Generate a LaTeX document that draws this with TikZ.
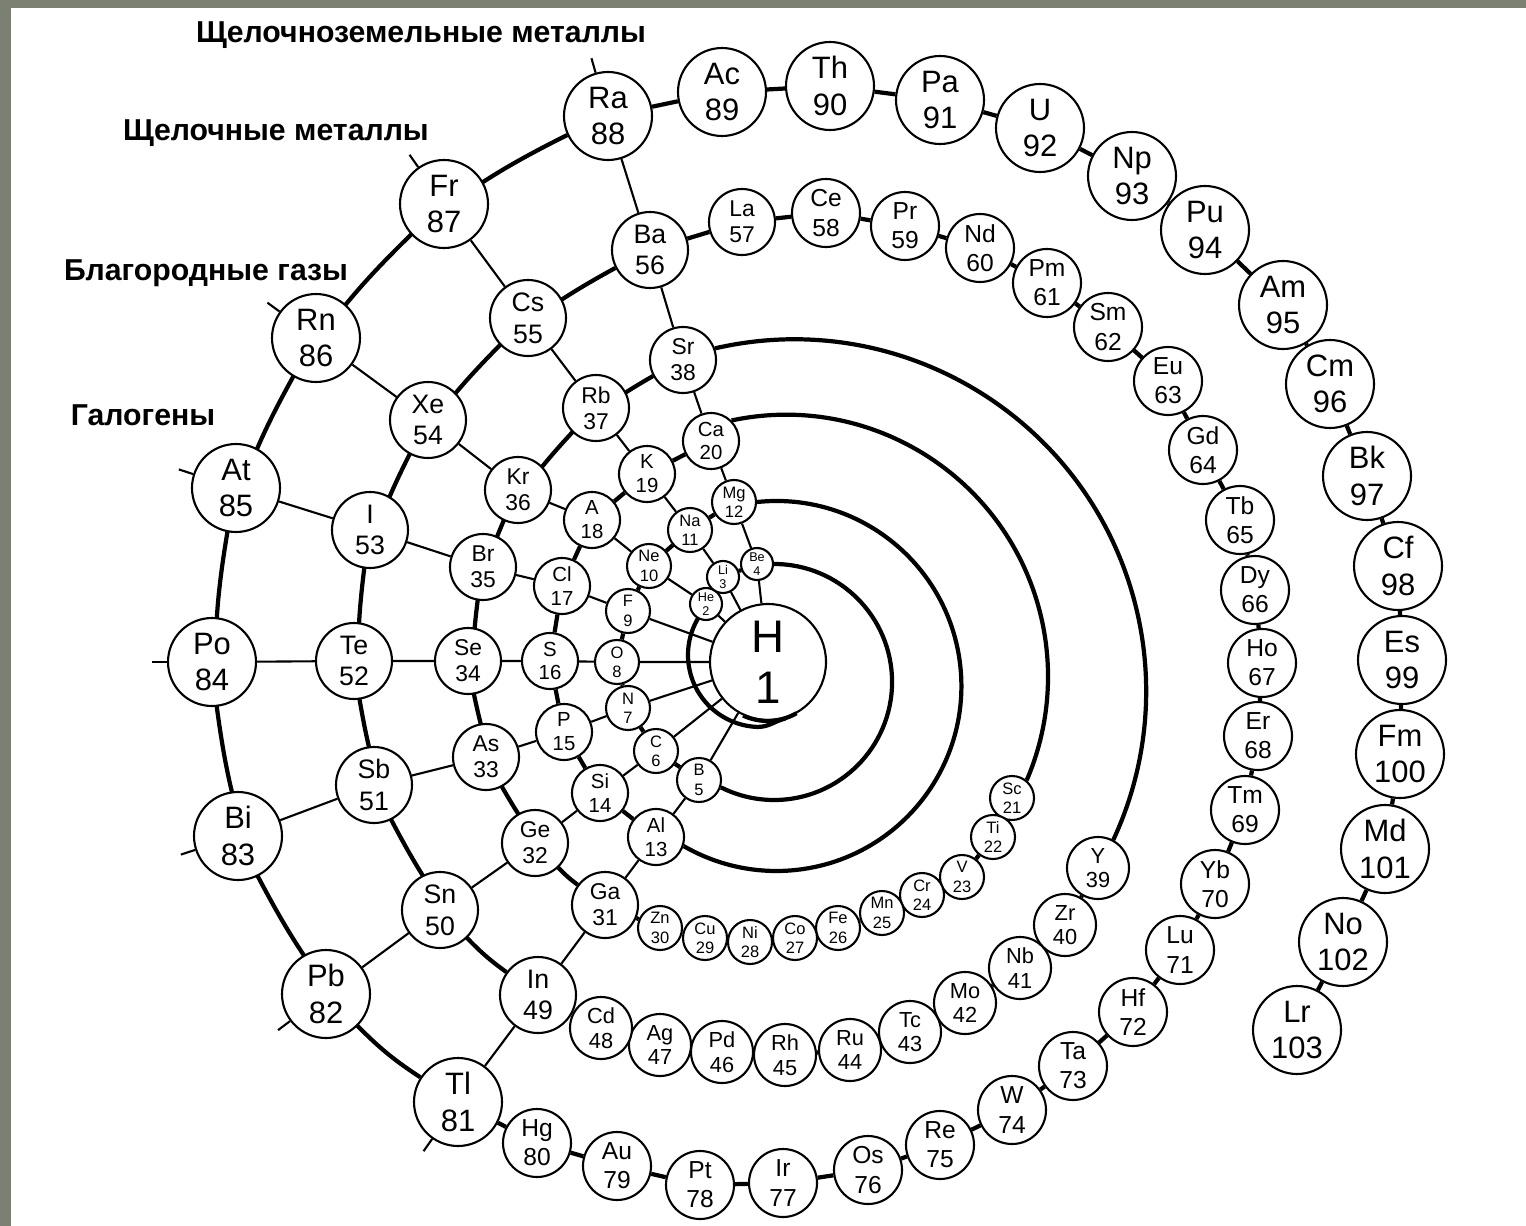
\documentclass[tikz,border=0pt]{standalone}
\usepackage{fontspec}
\setmainfont{Liberation Sans}
\usetikzlibrary{backgrounds}
\definecolor{framegray}{RGB}{124,128,114}

\begin{document}
\begin{tikzpicture}[
    x=0.1mm, y=0.1mm,
    el/.style={circle, draw, fill=white, line width=0.6pt, inner sep=0pt, align=center},
    hyd/.style={el, minimum size=11.6mm, font=\fontsize{13}{14.5}\selectfont},
    sz16/.style={el, minimum size=3.2mm, font=\fontsize{3.6}{4}\selectfont},
    sz22/.style={el, minimum size=4.4mm, font=\fontsize{4.7}{5.5}\selectfont},
    sz28/.style={el, minimum size=5.6mm, font=\fontsize{5.8}{6.8}\selectfont},
    sz31/.style={el, minimum size=6.2mm, font=\fontsize{6.2}{7}\selectfont},
    sz33/.style={el, minimum size=6.6mm, font=\fontsize{6.5}{7.4}\selectfont},
    sz34/.style={el, minimum size=6.8mm, font=\fontsize{7}{8.3}\selectfont},
    sz38/.style={el, minimum size=7.6mm, font=\fontsize{7.6}{9}\selectfont},
    sz44/.style={el, minimum size=8.8mm, font=\fontsize{8.8}{10.4}\selectfont},
    spl/.style={line width=1.2pt},
    grp/.style={line width=0.6pt},
    lbl/.style={font=\bfseries\fontsize{8.6}{10}\selectfont, inner sep=0pt}
]
\useasboundingbox (0,0) rectangle (1526,-1226);

% hydrogen and the first turns
\node[hyd] (H) at (768,-662) {H\\1};
\node[sz16] (He) at (706,-604) {He\\2};
\node[sz16] (Li) at (723,-577) {Li\\3};
\node[sz16] (Be) at (757,-564) {Be\\4};

\node[sz22] (B) at (699,-780) {B\\5};
\node[sz22] (C) at (656,-751) {C\\6};
\node[sz22] (N) at (628,-708) {N\\7};
\node[sz22] (O) at (617,-662) {O\\8};
\node[sz22] (F) at (628,-611) {F\\9};
\node[sz22] (Ne) at (649,-566) {Ne\\10};
\node[sz22] (Na) at (690,-530) {Na\\11};
\node[sz22] (Mg) at (734,-502) {Mg\\12};

\node[sz28] (Al) at (656,-837) {Al\\13};
\node[sz28] (Si) at (600,-793) {Si\\14};
\node[sz28] (P) at (564,-732) {P\\15};
\node[sz28] (S) at (550,-661) {S\\16};
\node[sz28] (Cl) at (562,-586) {Cl\\17};
\node[sz28] (Ar) at (592,-520) {A\\18};
\node[sz28] (K) at (647,-474) {K\\19};
\node[sz28] (Ca) at (711,-441) {Ca\\20};

% 3d
\node[sz22] (Sc) at (1012,-798) {Sc\\21};
\node[sz22] (Ti) at (993,-837) {Ti\\22};
\node[sz22] (V) at (962,-877) {V\\23};
\node[sz22] (Cr) at (922,-895) {Cr\\24};
\node[sz22] (Mn) at (882,-913) {Mn\\25};
\node[sz22] (Fe) at (838,-928) {Fe\\26};
\node[sz22] (Co) at (795,-938) {Co\\27};
\node[sz22] (Ni) at (750,-942) {Ni\\28};
\node[sz22] (Cu) at (705,-938) {Cu\\29};
\node[sz22] (Zn) at (660,-928) {Zn\\30};

\node[sz33] (Ga) at (605,-905) {Ga\\31};
\node[sz33] (Ge) at (535,-843) {Ge\\32};
\node[sz33] (As) at (486,-757) {As\\33};
\node[sz33] (Se) at (468,-661) {Se\\34};
\node[sz33] (Br) at (483,-567) {Br\\35};
\node[sz33] (Kr) at (518,-490) {Kr\\36};
\node[sz33] (Rb) at (596,-408) {Rb\\37};
\node[sz33] (Sr) at (683,-360) {Sr\\38};

% 4d
\node[sz31] (Y) at (1098,-868) {Y\\39};
\node[sz31] (Zr) at (1065,-925) {Zr\\40};
\node[sz31] (Nb) at (1020,-968) {Nb\\41};
\node[sz31] (Mo) at (965,-1003) {Mo\\42};
\node[sz31] (Tc) at (910,-1032) {Tc\\43};
\node[sz31] (Ru) at (850,-1050) {Ru\\44};
\node[sz31] (Rh) at (785,-1055) {Rh\\45};
\node[sz31] (Pd) at (722,-1052) {Pd\\46};
\node[sz31] (Ag) at (660,-1045) {Ag\\47};
\node[sz31] (Cd) at (601,-1028) {Cd\\48};

\node[sz38] (In) at (538,-995) {In\\49};
\node[sz38] (Sn) at (440,-910) {Sn\\50};
\node[sz38] (Sb) at (374,-785) {Sb\\51};
\node[sz38] (Te) at (354,-661) {Te\\52};
\node[sz38] (I) at (370,-530) {I\\53};
\node[sz38] (Xe) at (428,-420) {Xe\\54};
\node[sz38] (Cs) at (528,-318) {Cs\\55};
\node[sz38] (Ba) at (650,-250) {Ba\\56};

% lanthanides and 5d
\node[sz33] (La) at (742,-222) {La\\57};
\node[sz34] (Ce) at (826,-213) {Ce\\58};
\node[sz34] (Pr) at (905,-226) {Pr\\59};
\node[sz34] (Nd) at (980,-248) {Nd\\60};
\node[sz34] (Pm) at (1047,-283) {Pm\\61};
\node[sz34] (Sm) at (1108,-327) {Sm\\62};
\node[sz34] (Eu) at (1168,-381) {Eu\\63};
\node[sz34] (Gd) at (1203,-450) {Gd\\64};
\node[sz34] (Tb) at (1240,-520) {Tb\\65};
\node[sz34] (Dy) at (1255,-590) {Dy\\66};
\node[sz34] (Ho) at (1262,-663) {Ho\\67};
\node[sz34] (Er) at (1258,-736) {Er\\68};
\node[sz34] (Tm) at (1245,-810) {Tm\\69};
\node[sz34] (Yb) at (1215,-884) {Yb\\70};
\node[sz34] (Lu) at (1180,-950) {Lu\\71};
\node[sz34] (Hf) at (1133,-1012) {Hf\\72};
\node[sz34] (Ta) at (1073,-1066) {Ta\\73};
\node[sz34] (W) at (1012,-1110) {W\\74};
\node[sz34] (Re) at (940,-1145) {Re\\75};
\node[sz34] (Os) at (868,-1170) {Os\\76};
\node[sz34] (Ir) at (783,-1183) {Ir\\77};
\node[sz34] (Pt) at (700,-1185) {Pt\\78};
\node[sz34] (Au) at (617,-1166) {Au\\79};
\node[sz34] (Hg) at (537,-1143) {Hg\\80};

\node[sz44] (Tl) at (458,-1102) {Tl\\81};
\node[sz44] (Pb) at (326,-994) {Pb\\82};
\node[sz44] (Bi) at (238,-836) {Bi\\83};
\node[sz44] (Po) at (212,-662) {Po\\84};
\node[sz44] (At) at (236,-488) {At\\85};
\node[sz44] (Rn) at (316,-338) {Rn\\86};
\node[sz44] (Fr) at (444,-204) {Fr\\87};
\node[sz44] (Ra) at (608,-116) {Ra\\88};

% actinides
\node[sz44] (Ac) at (722,-92) {Ac\\89};
\node[sz44] (Th) at (830,-86) {Th\\90};
\node[sz44] (Pa) at (940,-100) {Pa\\91};
\node[sz44] (U) at (1040,-128) {U\\92};
\node[sz44] (Np) at (1132,-176) {Np\\93};
\node[sz44] (Pu) at (1205,-230) {Pu\\94};
\node[sz44] (Am) at (1283,-305) {Am\\95};
\node[sz44] (Cm) at (1330,-384) {Cm\\96};
\node[sz44] (Bk) at (1367,-476) {Bk\\97};
\node[sz44] (Cf) at (1398,-566) {Cf\\98};
\node[sz44] (Es) at (1402,-660) {Es\\99};
\node[sz44] (Fm) at (1400,-754) {Fm\\100};
\node[sz44] (Md) at (1385,-849) {Md\\101};
\node[sz44] (No) at (1343,-942) {No\\102};
\node[sz44] (Lr) at (1297,-1030) {Lr\\103};

% group names
\node[lbl] (alkearth) at (421,-35) {Щелочноземельные металлы};
\node[lbl] (alkali) at (276,-133) {Щелочные металлы};
\node[lbl] (noble) at (206,-273) {Благородные газы};
\node[lbl] (halogen) at (143,-415) {Галогены};

\begin{scope}[on background layer]
\fill[white] (0,0) rectangle (1526,-1226);
\fill[framegray] (0,0) rectangle (1526,-8);
\fill[framegray] (0,0) rectangle (11,-1226);

% the spiral
\draw[spl] (He) -- (Li) -- (Be);
\draw[spl] (Be.east) arc[start angle=90, end angle=-116, radius=11.8mm] -- (B);
\draw[spl] (B) -- (C) -- (N) -- (O) -- (F) -- (Ne) -- (Na) -- (Mg);
\draw[spl] (Mg.east) arc[start angle=96, end angle=-120, radius=18.5mm] -- (Al);
\draw[spl] (Al) -- (Si) -- (P) -- (S) -- (Cl) -- (Ar) -- (K) -- (Ca);
\draw[spl] (Ca.north east) arc[start angle=102, end angle=-23, radius=26.2mm] -- (Sc);
\draw[spl] (Sc) -- (Ti) -- (V) -- (Cr) -- (Mn) -- (Fe) -- (Co) -- (Ni) -- (Cu) -- (Zn) -- (Ga);
\draw[spl] (Ga) to[bend left=5] (Ge) to[bend left=5] (As) to[bend left=5] (Se) to[bend left=5] (Br) to[bend left=5] (Kr) to[bend left=5] (Rb) to[bend left=5] (Sr);
\draw[spl] (Sr.20) arc[start angle=103, end angle=-25, radius=35.2mm] -- (Y);
\draw[spl] (Y) -- (Zr) -- (Nb) -- (Mo) -- (Tc) -- (Ru) -- (Rh) -- (Pd) -- (Ag) -- (Cd) -- (In);
\draw[spl] (In) to[bend left=5] (Sn) to[bend left=5] (Sb) to[bend left=5] (Te) to[bend left=5] (I) to[bend left=5] (Xe) to[bend left=5] (Cs) to[bend left=5] (Ba);
\draw[spl] (Ba) -- (La) -- (Ce) -- (Pr) -- (Nd) -- (Pm) -- (Sm) -- (Eu) -- (Gd) -- (Tb) -- (Dy) -- (Ho) -- (Er) -- (Tm) -- (Yb) -- (Lu);
\draw[spl] (Lu) -- (Hf) -- (Ta) -- (W) -- (Re) -- (Os) -- (Ir) -- (Pt) -- (Au) -- (Hg) -- (Tl);
\draw[spl] (Tl) to[bend left=6] (Pb) to[bend left=6] (Bi) to[bend left=6] (Po) to[bend left=6] (At) to[bend left=6] (Rn) to[bend left=6] (Fr) to[bend left=6] (Ra);
\draw[spl] (Ra) -- (Ac) -- (Th) -- (Pa) -- (U) -- (Np) -- (Pu) -- (Am) -- (Cm) -- (Bk) -- (Cf) -- (Es) -- (Fm) -- (Md) -- (No) -- (Lr);

% groups
\draw[grp] (He) -- (Ne) -- (Ar) -- (Kr) -- (Xe) -- (Rn);
\draw[grp] (Li) -- (Na) -- (K) -- (Rb) -- (Cs) -- (Fr);
\draw[grp] (Be) -- (Mg) -- (Ca) -- (Sr) -- (Ba) -- (Ra);
\draw[grp] (B) -- (Al) -- (Ga) -- (In) -- (Tl);
\draw[grp] (C) -- (Si) -- (Ge) -- (Sn) -- (Pb);
\draw[grp] (N) -- (P) -- (As) -- (Sb) -- (Bi);
\draw[grp] (O) -- (S) -- (Se) -- (Te) -- (Po);
\draw[grp] (F) -- (Cl) -- (Br) -- (I) -- (At);
\draw[grp] (H) -- (He) (H) -- (Li) (H) -- (Be) (H) -- (B) (H) -- (C) (H) -- (N) (H) -- (O) (H) -- (F);

% band round hydrogen
\coordinate (hband) at (760,-655);
\draw[spl] (hband) ++(145:72) arc[start angle=145, end angle=268, radius=7.2mm] to[out=0, in=195] (H.287);

% ticks on the outer turn
\draw[grp] (Ra.106) -- ++(106:15);
\draw[grp] (Fr.125) -- ++(125:15);
\draw[grp] (Rn.144) -- ++(144:15);
\draw[grp] (At.162) -- ++(162:15);
\draw[grp] (Po.180) -- ++(180:15);
\draw[grp] (Bi.198) -- ++(198:15);
\draw[grp] (Pb.217) -- ++(217:15);
\draw[grp] (Tl.235) -- ++(235:15);
\end{scope}

\draw[spl] (H.245) arc[start angle=245, end angle=300, radius=5.8mm];
\end{tikzpicture}
\end{document}
